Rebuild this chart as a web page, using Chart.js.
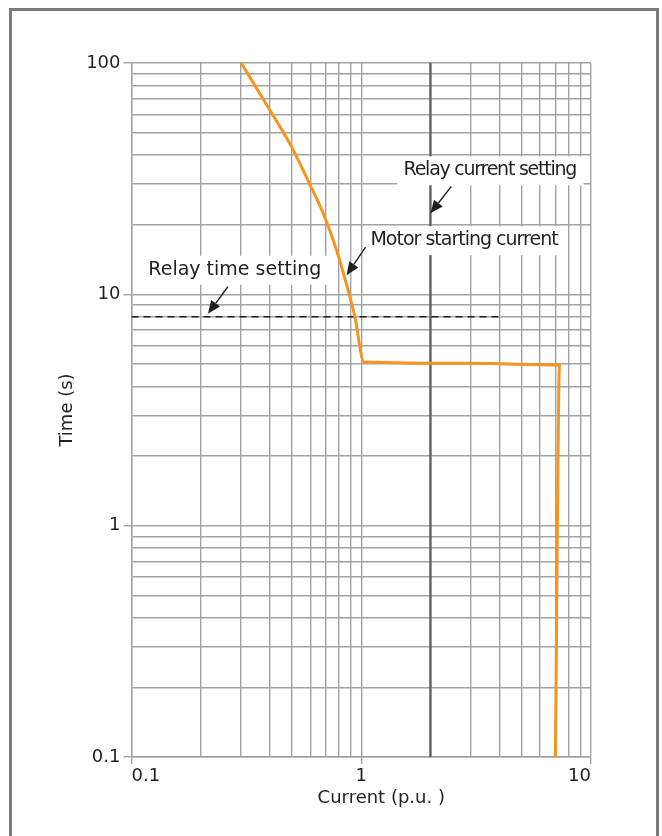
<!DOCTYPE html>
<html>
<head>
<meta charset="utf-8">
<script src="https://cdn.jsdelivr.net/npm/chart.js@4/dist/chart.umd.min.js"></script>
<style>
  html, body { margin: 0; padding: 0; background: #fff; }
  .frame {
    position: absolute; left: 9px; top: 8px; width: 650px; height: 850px;
    border: 3px solid #7b7b7d; border-bottom: none; box-sizing: border-box;
  }
  #c { position: absolute; left: 0; top: 0; }
</style>
</head>
<body>
<div class="frame"></div>
<canvas id="c" width="662" height="836"></canvas>
<script>
// Motor thermal curve: trip time (s) against current (per unit)
const currentPU = [0.30, 0.40, 0.497, 0.594, 0.683, 0.781, 0.877, 0.938, 1.027, 3.0, 7.3, 7.0];
const timeS     = [100, 62.6, 43.5, 30.2, 22.4, 15.5, 10.4, 8.0, 5.1, 5.03, 4.95, 0.1];

// Relay settings
const relayTimeSetting = 8;          // s
const relayTimeSpan = [0.1, 4];      // p.u. extent of the dashed line
const relayCurrentSetting = 2;       // p.u.
const relayCurrentSpan = [0.1, 100]; // s extent of the setting line

// Axis ticks (grid at every 1..9 step of each decade, labels at decades)
const xTicks = [0.1, 0.2, 0.3, 0.4, 0.5, 0.6, 0.7, 0.8, 0.9, 1, 2, 3, 4, 5, 6, 7, 8, 9, 10];
const yTicks = [0.1, 0.2, 0.3, 0.4, 0.5, 0.6, 0.7, 0.8, 0.9, 1, 2, 3, 4, 5, 6, 7, 8, 9, 10, 20, 30, 40, 50, 60, 70, 80, 90, 100];
const xTickLabels = ['0.1', '1', '10'];
const yTickLabels = ['0.1', '1', '10', '100'];
const xLabelledValues = [0.1, 1, 10];
const yLabelledValues = [0.1, 1, 10, 100];

const GRID = '#a0a2a5';
const INK = '#231f20';
const FONT = '"DejaVu Sans", sans-serif';

function labelFor(values, labels, v) {
  const i = values.findIndex(m => Math.abs(m - v) < 1e-9);
  return i >= 0 ? labels[i] : '';
}
function isLabelled(values, v) {
  return values.some(m => Math.abs(m - v) < 1e-9);
}

// Callouts: arrow tip in data space, tail and text centre as pixel offsets from the tip
const callouts = [
  { text: 'Relay current setting', tip: [relayCurrentSetting, 22.4], tail: [21, -27], label: [60, -43], spacing: -1.25 },
  { text: 'Motor starting current', tip: [0.863, 12.1], tail: [19, -28], label: [118, -35], spacing: -1.0 },
  { text: 'Relay time setting', tip: [0.215, relayTimeSetting], tail: [20, -27], label: [27, -44], spacing: 0, dy: -3 }
];

const xTitle = { text: 'Current (p.u. )', shift: 20, y: 798 };

const calloutPlugin = {
  id: 'callouts',
  afterDatasetsDraw(chart) {
    const { ctx, chartArea } = chart;
    const xs = chart.scales.x, ys = chart.scales.y;
    ctx.save();
    ctx.font = '400 19px ' + FONT;
    ctx.textAlign = 'center';
    ctx.textBaseline = 'middle';
    callouts.forEach(c => {
      const tx = xs.getPixelForValue(c.tip[0]);
      const ty = ys.getPixelForValue(c.tip[1]) + (c.dy || 0);
      const lx = tx + c.label[0], ly = ty + c.label[1];
      ctx.letterSpacing = c.spacing + 'px';
      const w = ctx.measureText(c.text).width;
      // white plate behind the text
      ctx.fillStyle = '#ffffff';
      ctx.fillRect(lx - w / 2 - 7, ly - 14, w + 14, 29);
      ctx.fillStyle = INK;
      ctx.fillText(c.text, lx + c.spacing / 2, ly);
      // arrow
      const ax = tx + c.tail[0], ay = ty + c.tail[1];
      const ang = Math.atan2(ty - ay, tx - ax);
      const headLen = 13, headHalf = 5.5;
      const bx = tx - headLen * Math.cos(ang), by = ty - headLen * Math.sin(ang);
      ctx.strokeStyle = INK;
      ctx.lineWidth = 1.4;
      ctx.beginPath();
      ctx.moveTo(ax, ay);
      ctx.lineTo(bx, by);
      ctx.stroke();
      ctx.beginPath();
      ctx.moveTo(tx, ty);
      ctx.lineTo(bx + headHalf * Math.sin(ang), by - headHalf * Math.cos(ang));
      ctx.lineTo(bx - headHalf * Math.sin(ang), by + headHalf * Math.cos(ang));
      ctx.closePath();
      ctx.fill();
    });
    // x-axis title
    ctx.letterSpacing = '0px';
    ctx.font = '400 18px ' + FONT;
    ctx.fillStyle = INK;
    ctx.fillText(xTitle.text, (chartArea.left + chartArea.right) / 2 + xTitle.shift, xTitle.y);
    ctx.restore();
  }
};

new Chart(document.getElementById('c'), {
  type: 'scatter',
  data: {
    datasets: [
      {
        label: 'Motor thermal curve',
        data: currentPU.map((x, i) => ({ x, y: timeS[i] })),
        showLine: true,
        borderColor: '#f7941d',
        borderWidth: 3,
        pointRadius: 0,
        cubicInterpolationMode: 'monotone',
        borderJoinStyle: 'round'
      },
      {
        label: 'Relay time setting',
        data: relayTimeSpan.map(x => ({ x, y: relayTimeSetting })),
        showLine: true,
        borderColor: INK,
        borderWidth: 1.3,
        borderDash: [7, 5],
        pointRadius: 0
      },
      {
        label: 'Relay current setting',
        data: relayCurrentSpan.map(y => ({ x: relayCurrentSetting, y })),
        showLine: true,
        borderColor: '#58595b',
        borderWidth: 2.2,
        pointRadius: 0
      }
    ]
  },
  options: {
    responsive: false,
    devicePixelRatio: 1,
    animation: false,
    events: [],
    layout: { padding: { left: 0, top: 63, right: 71, bottom: 0 } },
    plugins: { legend: { display: false }, tooltip: { enabled: false } },
    scales: {
      x: {
        type: 'logarithmic',
        min: 0.1, max: 10,
        afterBuildTicks: s => { s.ticks = xTicks.map(v => ({ value: v })); },
        afterFit: s => { s.height = 79; },
        ticks: {
          autoSkip: false, maxRotation: 0, align: 'inner', padding: 2,
          color: INK, font: { family: FONT, size: 18 },
          callback: v => labelFor(xLabelledValues, xTickLabels, v)
        },
        grid: {
          color: GRID, lineWidth: 1.4, tickLength: 7,
          tickColor: c => (c.tick && isLabelled(xLabelledValues, c.tick.value)) ? GRID : 'rgba(0,0,0,0)'
        },
        border: { color: GRID, width: 1.4 },
        title: { display: false }
      },
      y: {
        type: 'logarithmic',
        min: 0.1, max: 100,
        afterBuildTicks: s => { s.ticks = yTicks.map(v => ({ value: v })); },
        afterFit: s => { s.width = 131.5; },
        ticks: {
          autoSkip: false, padding: 3,
          color: INK, font: { family: FONT, size: 18 },
          callback: v => labelFor(yLabelledValues, yTickLabels, v)
        },
        grid: {
          color: GRID, lineWidth: 1.4, tickLength: 8,
          tickColor: c => (c.tick && isLabelled(yLabelledValues, c.tick.value)) ? GRID : 'rgba(0,0,0,0)'
        },
        border: { color: GRID, width: 1.4 },
        title: {
          display: true, text: 'Time (s)', color: INK,
          font: { family: FONT, size: 18 }, padding: { top: 57, bottom: 0 }
        }
      }
    }
  },
  plugins: [calloutPlugin]
});
</script>
</body>
</html>
